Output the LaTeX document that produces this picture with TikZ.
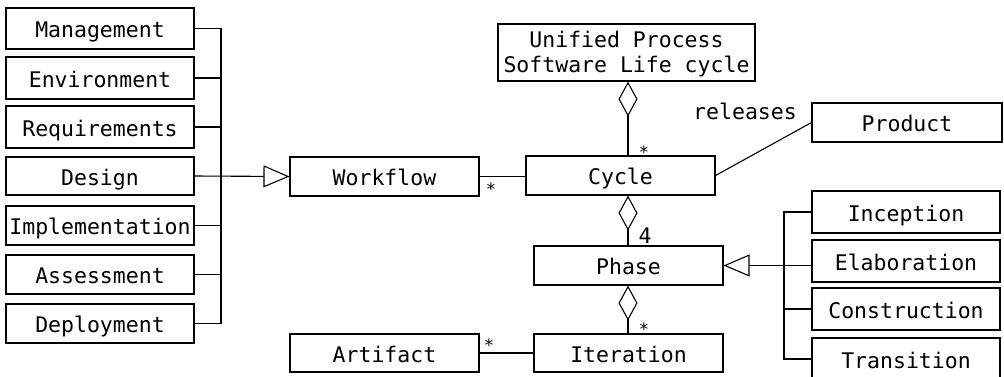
\documentclass[tikz,border=0pt]{standalone}
\usepackage{fontspec}
\setmainfont{DejaVu Sans Mono}
\usetikzlibrary{arrows.meta}
\tikzset{
  box/.style={draw, line width=1.1pt, inner sep=0pt, minimum width=188pt, minimum height=40pt,
    font=\fontsize{21.5}{25}\selectfont, align=center, text height=18pt, text depth=0pt},
  conn/.style={line width=1.1pt},
  gen/.style={conn, -{Triangle[open, length=26pt, width=22pt, fill=white]}},
  agg/.style={conn, {Diamond[open, length=35pt, width=19pt, fill=white]}-},
  mult/.style={font=\fontsize{17}{17}\selectfont, inner sep=0pt, anchor=base},
  lbl/.style={font=\fontsize{21.5}{25}\selectfont, inner sep=0pt}
}
\begin{document}
\begin{tikzpicture}[x=1pt, y=-1pt]
\useasboundingbox (0,0) rectangle (1004,376);
% left column
\node[box, minimum height=41pt] (mgmt) at (100,28.5) {Management};
\node[box, minimum height=42pt] (env) at (100,78) {Environment};
\node[box, minimum height=42pt] (req) at (100,127) {Requirements};
\node[box, minimum height=38pt] (des) at (100,176) {Design};
\node[box, minimum height=39pt] (imp) at (100,225.5) {Implementation};
\node[box, minimum height=39pt] (ass) at (100,274.5) {Assessment};
\node[box, minimum height=39pt] (dep) at (100,323.5) {Deployment};
% middle
\node[box, minimum width=189pt, minimum height=39pt] (wf) at (384.5,176.5) {Workflow};
\node[box, minimum width=189pt, minimum height=39pt] (cyc) at (620.5,175.5) {Cycle};
\node[box, minimum width=257pt, minimum height=57pt, text height=39pt] (up) at (626.5,52.5) {Unified Process\\Software Life cycle};
\node[box, minimum width=189pt, minimum height=39pt] (pha) at (628.5,265.5) {Phase};
\node[box, minimum width=189pt, minimum height=38pt] (ite) at (628.5,353) {Iteration};
\node[box, minimum width=189pt, minimum height=38pt] (art) at (384.5,353) {Artifact};
% right
\node[box, minimum width=190pt, minimum height=39pt] (prod) at (907,122.5) {Product};
\node[box, minimum height=42pt] (inc) at (906,212) {Inception};
\node[box, minimum height=42pt] (ela) at (906,261) {Elaboration};
\node[box, minimum height=42pt] (con) at (906,309) {Construction};
\node[box, minimum height=42pt] (tra) at (906,359) {Transition};
% left bus
\coordinate (lb) at (221,0);
\draw[conn] (mgmt.east) -- (mgmt.east -| lb) |- (dep.east);
\draw[conn] (env.east) -- (env.east -| lb);
\draw[conn] (req.east) -- (req.east -| lb);
\draw[conn] (imp.east) -- (imp.east -| lb);
\draw[conn] (ass.east) -- (ass.east -| lb);
\draw[gen] (des.east) -- (wf.west);
% aggregation column
\coordinate (ax) at (628,0);
\draw[agg] (up.south -| ax) -- (cyc.north -| ax);
\draw[agg] (cyc.south -| ax) -- (pha.north -| ax);
\draw[agg] (pha.south -| ax) -- (ite.north -| ax);
% associations
\draw[conn] (wf.east) -- (wf.east -| cyc.west);
\draw[conn] (art.east) -- (art.east -| ite.west);
\draw[conn] (cyc.east) -- (prod.west);
\node[lbl] (rel) at (745,111.5) {releases};
% right bus
\coordinate (rb) at (784,0);
\draw[gen] (pha.east -| ela.west) -- (pha.east);
\draw[conn] (inc.west) -- (inc.west -| rb) |- (tra.west);
\draw[conn] (con.west) -- (con.west -| rb);
% multiplicities
\node[mult] (m1) at (644,158.5) {*};
\node[mult] (m2) at (491,195.5) {*};
\node[mult] (m3) at (644,335.5) {*};
\node[mult] (m4) at (489,351.5) {*};
\node[lbl] (m5) at (645,236) {4};
\end{tikzpicture}
\end{document}
